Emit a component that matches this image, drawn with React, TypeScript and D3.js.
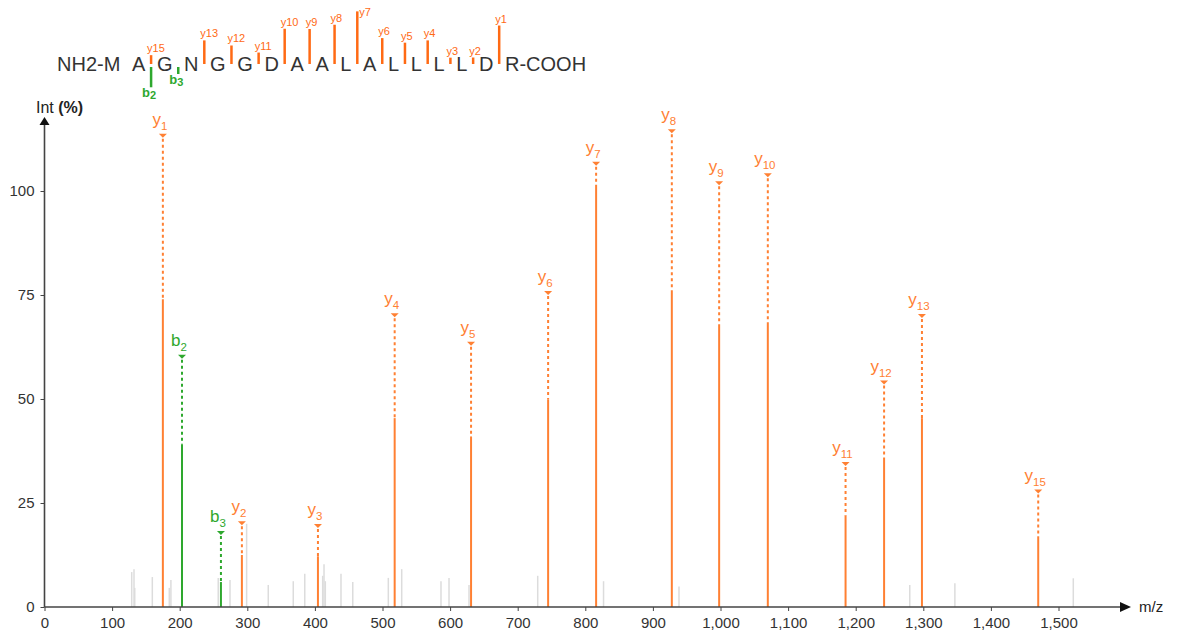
import { useEffect, useRef } from 'react';
import * as d3 from 'd3';

// matched fragment ions (m/z, relative intensity, height of the label marker)
const ionNames = ['y1', 'b2', 'b3', 'y2', 'y3', 'y4', 'y5', 'y6', 'y7', 'y8', 'y9', 'y10', 'y11', 'y12', 'y13', 'y15'];
const ionMz = [175.1, 203.4, 261.0, 292.0, 404.5, 518.0, 631.0, 745.0, 816.0, 928.0, 998.0, 1070.0, 1185.0, 1242.0, 1298.0, 1470.0];
const ionIntensity = [74.0, 39.0, 6.0, 12.5, 12.2, 45.4, 41.0, 49.8, 101.2, 75.5, 67.3, 67.8, 22.0, 35.6, 45.4, 17.0];
const ionLabelLevel = [113.5, 60.4, 18.0, 20.4, 19.7, 70.4, 63.5, 75.7, 106.8, 114.6, 102.1, 104.0, 34.6, 54.2, 70.2, 28.0];

// unmatched peaks (grey)
const noiseMz = [129, 132.4, 133.5, 159.5, 184.6, 187, 257, 274.4, 299, 331, 368, 385, 411.5, 413.5, 415.4, 438.6, 456, 508.6, 528.4, 586.5, 598.4, 628, 729.6, 827, 938.6, 1280, 1346.7, 1521.9];
const noiseIntensity = [8.4, 9.1, 4.6, 7.2, 4.6, 6.5, 7.0, 6.5, 20.0, 5.3, 6.2, 8.0, 7.5, 10.3, 6.2, 8.0, 6.0, 7.0, 9.1, 6.2, 7.0, 5.3, 7.5, 6.2, 4.9, 5.3, 5.7, 6.9];

// peptide sequence
const nTerm = 'NH2-M';
const residues = ['A', 'G', 'N', 'G', 'G', 'D', 'A', 'A', 'L', 'A', 'L', 'L', 'L', 'L', 'D', 'R'];
const cTerm = '-COOH';

const xTicks = [0, 100, 200, 300, 400, 500, 600, 700, 800, 900, 1000, 1100, 1200, 1300, 1400, 1500];
const yTicks = [0, 25, 50, 75, 100];

const W = 1183;
const H = 636;
const ORANGE = '#ff8033';
const ORANGE_DARK = '#ff6a14';
const GREEN = '#2ea82e';
const GREY = '#dcdcdc';
const AXIS = '#444';
const FONT = 'Arial, "Liberation Sans", sans-serif';

export default function App() {
  const svgRef = useRef<SVGSVGElement>(null);

  useEffect(() => {
    if (!svgRef.current) return;
    const svg = d3.select(svgRef.current);
    svg.selectAll('*').remove();

    const x = d3.scaleLinear().domain([0, 1500]).range([44.5, 1058.5]);
    const y = d3.scaleLinear().domain([0, 100]).range([607, 191]);
    const x0 = x(0);
    const y0 = y(0);

    // grey peaks
    svg.append('g')
      .selectAll('line')
      .data(noiseMz.map((mz, i) => ({ mz, v: noiseIntensity[i] })))
      .join('line')
      .attr('x1', d => x(d.mz))
      .attr('x2', d => x(d.mz))
      .attr('y1', y0)
      .attr('y2', d => y(d.v))
      .attr('stroke', GREY)
      .attr('stroke-width', 1.5);

    const ions = ionNames.map((name, i) => ({
      name,
      type: name[0],
      num: name.slice(1),
      mz: ionMz[i],
      v: ionIntensity[i],
      level: ionLabelLevel[i],
    }));
    const colorOf = (t: string) => (t === 'b' ? GREEN : ORANGE);

    const g = svg.append('g');
    ions.forEach(d => {
      const px = x(d.mz);
      const c = colorOf(d.type);
      // solid peak
      g.append('line')
        .attr('x1', px).attr('x2', px)
        .attr('y1', y0).attr('y2', y(d.v))
        .attr('stroke', c)
        .attr('stroke-width', 2);
      // dashed leader to label
      g.append('line')
        .attr('x1', px).attr('x2', px)
        .attr('y1', y(d.level) + 4).attr('y2', y(d.v))
        .attr('stroke', c)
        .attr('stroke-width', 2)
        .attr('stroke-dasharray', '3,3');
      // marker
      const my = y(d.level);
      g.append('path')
        .attr('d', `M${px - 4},${my - 1}L${px + 4},${my - 1}L${px},${my + 3}Z`)
        .attr('fill', c);
      // label
      const t = g.append('text')
        .attr('x', px - 3)
        .attr('y', my - 10)
        .attr('text-anchor', 'middle')
        .attr('fill', c)
        .style('font-family', FONT);
      t.append('tspan').style('font-size', '17px').text(d.type);
      t.append('tspan').attr('dy', 5).style('font-size', '11.5px').text(d.num);
    });

    // x axis
    const xAxis = svg.append('g')
      .attr('transform', `translate(0,${y0})`)
      .call(d3.axisBottom(x).tickValues(xTicks).tickSize(4).tickFormat(d3.format(',') as any));
    xAxis.select('.domain').remove();
    xAxis.selectAll('line').attr('stroke', AXIS);
    xAxis.selectAll('text')
      .attr('dy', '0.95em')
      .style('font-family', FONT)
      .style('font-size', '15px')
      .attr('fill', '#333');
    svg.append('line')
      .attr('x1', x0).attr('x2', 1122)
      .attr('y1', y0).attr('y2', y0)
      .attr('stroke', AXIS).attr('stroke-width', 1.6);
    svg.append('path')
      .attr('d', `M1120,${y0 - 5}L1131,${y0}L1120,${y0 + 5}Z`)
      .attr('fill', '#111');
    svg.append('text')
      .attr('x', 1139).attr('y', y0 + 5)
      .style('font-family', FONT).style('font-size', '15px')
      .attr('fill', '#222')
      .text('m/z');

    // y axis
    const yAxis = svg.append('g')
      .attr('transform', `translate(${x0},0)`)
      .call(d3.axisLeft(y).tickValues(yTicks).tickSize(4));
    yAxis.select('.domain').remove();
    yAxis.selectAll('line').attr('stroke', AXIS);
    yAxis.selectAll('text')
      .attr('dx', '-0.2em')
      .style('font-family', FONT)
      .style('font-size', '15px')
      .attr('fill', '#333');
    svg.append('line')
      .attr('x1', x0).attr('x2', x0)
      .attr('y1', y0).attr('y2', 124)
      .attr('stroke', AXIS).attr('stroke-width', 1.6);
    svg.append('path')
      .attr('d', `M${x0 - 5},125L${x0},117L${x0 + 5},125Z`)
      .attr('fill', '#111');
    const yl = svg.append('text')
      .attr('x', 36).attr('y', 113)
      .style('font-family', FONT).style('font-size', '16px')
      .attr('fill', '#222');
    yl.append('tspan').text('Int ');
    yl.append('tspan').style('font-weight', 'bold').text('(%)');

    // sequence header with fragment markers
    const hdr = svg.append('g');
    const baseY = 71;
    const gap = 11.6;
    let cursor = 57;
    const pre = hdr.append('text')
      .attr('x', cursor).attr('y', baseY)
      .style('font-family', FONT).style('font-size', '20px')
      .attr('fill', '#333')
      .text(nTerm);
    cursor += (pre.node() as SVGTextElement).getComputedTextLength();
    const gapX: number[] = [];
    residues.forEach((r, i) => {
      cursor += gap;
      const t = hdr.append('text')
        .attr('x', cursor).attr('y', baseY)
        .style('font-family', FONT).style('font-size', '20px')
        .attr('fill', '#333')
        .text(r);
      cursor += (t.node() as SVGTextElement).getComputedTextLength();
      gapX[i] = cursor + gap / 2;
      if (i === residues.length - 1) t.text(r + cTerm);
    });

    const barScale = 0.52;
    ions.forEach(d => {
      const n = +d.num;
      if (d.type === 'y') {
        const bx = gapX[residues.length - 1 - n];
        const top = 64 - d.v * barScale;
        hdr.append('line')
          .attr('x1', bx).attr('x2', bx)
          .attr('y1', 64).attr('y2', top)
          .attr('stroke', ORANGE_DARK).attr('stroke-width', 2.5);
        // label above the bar, or beside it when there is no room above
        const roomAbove = top - 3 - 9 > 1;
        hdr.append('text')
          .attr('x', roomAbove ? bx - 4 : bx + 2)
          .attr('y', roomAbove ? top - 3 : top + 5)
          .style('font-family', FONT).style('font-size', '11px')
          .attr('fill', ORANGE_DARK)
          .text(d.name);
      } else {
        const bx = gapX[n - 2];
        const bottom = 67 + Math.max(7, d.v * barScale);
        hdr.append('line')
          .attr('x1', bx).attr('x2', bx)
          .attr('y1', 67).attr('y2', bottom)
          .attr('stroke', GREEN).attr('stroke-width', 2.5);
        const t = hdr.append('text')
          .attr('x', bx - 9).attr('y', bottom + 10)
          .style('font-family', FONT).style('font-size', '13px')
          .style('font-weight', 'bold')
          .attr('fill', GREEN);
        t.append('tspan').text('b');
        t.append('tspan').attr('dy', 2).style('font-size', '11px').text(d.num);
      }
    });
  }, []);

  return (
    <svg
      ref={svgRef}
      width={W}
      height={H}
      style={{ position: 'absolute', left: 0, top: 0, background: '#fff' }}
    />
  );
}
